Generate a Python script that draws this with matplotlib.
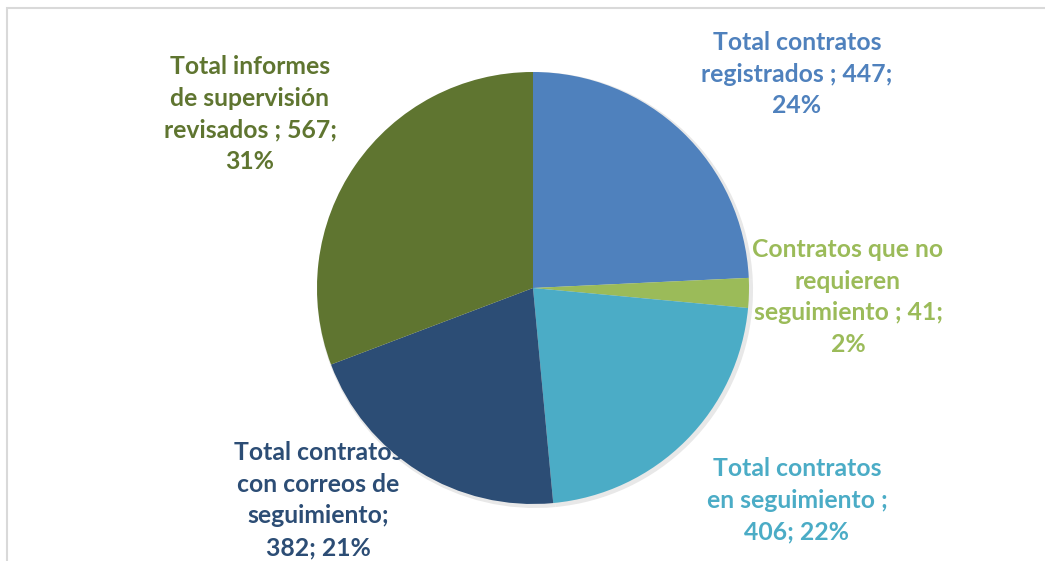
import matplotlib.pyplot as plt
from matplotlib.patches import Rectangle

plt.rcParams["font.family"] = ["Lato", "DejaVu Sans"]

categorias = ["Total contratos\nregistrados ; 447;\n24%",
              "Contratos que no\nrequieren\nseguimiento ; 41;\n2%",
              "Total contratos\nen seguimiento ;\n406; 22%",
              "Total contratos\ncon correos de\nseguimiento;\n382; 21%",
              "Total informes\nde supervisión\nrevisados ; 567;\n31%"]
valores = [447, 41, 406, 382, 567]
colores = ["#4F81BD", "#9BBB59", "#4BACC6", "#2C4D75", "#5F7530"]
# centro de cada etiqueta (px, desde arriba)
pos_etiquetas = [(797, 74), (848, 297), (797, 500), (318, 500), (250, 114)]

W, H = 1045, 561
fig = plt.figure(figsize=(W / 100, H / 100), dpi=100)
ax = fig.add_axes([0, 0, 1, 1])

# marco gris claro
ax.add_patch(Rectangle((7, -20), W + 20, H - 8 + 20, fill=False,
                       edgecolor="#d9d9d9", linewidth=1.5))

cx, cy, r = 533, H - 288, 216
# sombra suave
ax.pie(valores, colors=["#e8e8e8"] * 5, radius=r + 2, center=(cx + 2, cy - 2),
       startangle=90, counterclock=False, frame=True)
ax.pie(valores, colors=colores, radius=r, center=(cx, cy),
       startangle=90, counterclock=False, frame=True,
       wedgeprops=dict(linewidth=0))
ax.set_xlim(0, W)
ax.set_ylim(0, H)
ax.set_aspect("equal")
ax.axis("off")

for texto, col, (x, y) in zip(categorias, colores, pos_etiquetas):
    ax.text(x, H - y, texto, color=col, fontsize=17.8, fontweight="bold",
            ha="center", va="center", linespacing=1.47)

plt.savefig("out.png", dpi=100)
